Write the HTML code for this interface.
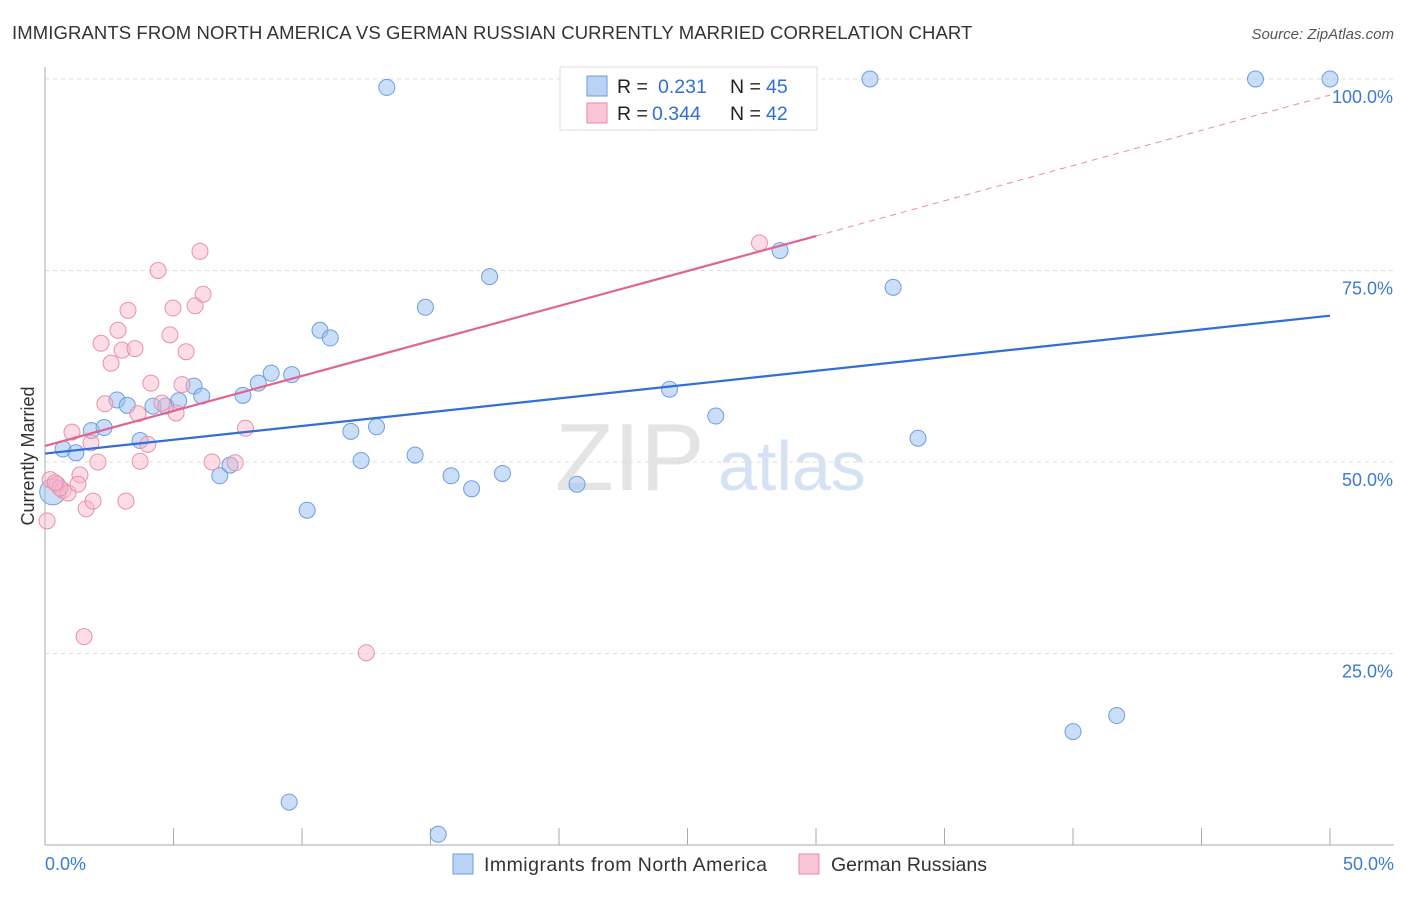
<!DOCTYPE html>
<html><head><meta charset="utf-8"><style>
body{margin:0;background:#fff;font-family:"Liberation Sans",sans-serif}
svg text{font-family:"Liberation Sans",sans-serif}
</style></head><body>
<svg width="1406" height="892">
<text x="12" y="39" font-size="18.5" letter-spacing="0.1" fill="#333">IMMIGRANTS FROM NORTH AMERICA VS GERMAN RUSSIAN CURRENTLY MARRIED CORRELATION CHART</text>
<text x="1394" y="39" font-size="15" fill="#555" font-style="italic" text-anchor="end">Source: ZipAtlas.com</text>
<text x="34" y="456" font-size="18" fill="#333" text-anchor="middle" transform="rotate(-90 34 456)">Currently Married</text>
<text x="555" y="490" font-size="96" fill="#e4e4e4" font-family="Liberation Serif">ZIP</text>
<text x="718" y="490" font-size="70" fill="#d4e2f4">atlas</text>
<g id="grid"></g><g id="pts"></g>
<g>
<rect x="560" y="67" width="257" height="63" fill="#fff" stroke="#ddd"/>
<rect x="587" y="76" width="20" height="20" fill="#b9d3f5" stroke="#6b9ee0"/>
<rect x="587" y="103" width="20" height="20" fill="#f9c6d6" stroke="#e88aaa"/>
<text x="617" y="93" font-size="19.5" fill="#222">R = <tspan x="658" fill="#2f6fd6">0.231</tspan><tspan x="730">N = </tspan><tspan x="766" fill="#2f6fd6">45</tspan></text>
<text x="617" y="120" font-size="19.5" fill="#222">R = <tspan x="652" fill="#2f6fd6">0.344</tspan><tspan x="730">N = </tspan><tspan x="766" fill="#2f6fd6">42</tspan></text>
</g>
<g>
<rect x="453" y="854" width="20" height="20" fill="#b9d3f5" stroke="#6b9ee0"/>
<text x="484" y="871" font-size="19.5" fill="#333" textLength="283">Immigrants from North America</text>
<rect x="799" y="854" width="20" height="20" fill="#f9c6d6" stroke="#e88aaa"/>
<text x="831" y="871" font-size="19.5" fill="#333" textLength="156">German Russians</text>
</g>
</svg>
<script>
const blueX=[13.3,32.1,47.1,50,0.7,1.2,1.8,2.3,2.8,3.2,3.7,4.2,4.7,5.2,5.8,6.1,6.8,7.2,7.7,8.3,8.8,9.6,10.2,10.7,11.1,11.9,12.3,12.9,14.4,14.8,15.8,16.6,17.3,17.8,20.7,24.3,26.1,28.6,33.0,33.97,40.0,41.7,9.5,15.3,0.3];
const blueY=[98.9,100,100,100,51.7,51.2,54.1,54.5,58.1,57.4,52.8,57.3,57.3,58.0,59.9,58.6,48.2,49.6,58.7,60.3,61.6,61.4,43.7,67.2,66.2,54.0,50.2,54.6,50.9,70.2,48.2,46.5,74.2,48.5,47.1,59.5,56.0,77.6,72.8,53.1,14.8,16.9,5.6,1.4,46.1];
const pinkX=[0.08,0.2,0.47,0.7,0.9,1.05,1.36,1.28,1.6,1.87,1.79,2.06,2.18,2.33,2.57,2.84,3.0,3.23,3.5,3.15,3.62,3.7,4.0,4.12,4.4,4.55,4.86,4.98,5.1,5.33,5.49,5.84,6.03,6.15,6.5,7.4,7.8,12.5,27.8,1.52,0.58,0.39];
const pinkY=[42.3,47.7,47.1,46.3,45.96,53.9,48.3,47.1,43.9,44.9,52.5,50.0,65.5,57.6,62.9,67.2,64.6,69.8,64.8,44.9,56.3,50.1,52.3,60.3,75.0,57.7,66.6,70.1,56.4,60.1,64.4,70.4,77.5,71.9,50.0,49.9,54.4,25.1,78.6,27.2,46.6,47.3];
const blueFit=[51.1,69.1], pinkFit=[52.1,79.5,97.9];
const yTicks=[25,50,75,100], xTicks=[0,5,10,15,20,25,30,35,40,45,50];
const NS="http://www.w3.org/2000/svg";
const X=v=>45+v/50*1285, Y=v=>845-v/100*766;
function mk(tag,attrs,parent){const e=document.createElementNS(NS,tag);for(const k in attrs)e.setAttribute(k,attrs[k]);parent.appendChild(e);return e;}
const g=document.getElementById('grid'), p=document.getElementById('pts');
yTicks.forEach(t=>{
 const l=mk('line',{x1:45,x2:1394,y1:Y(t),y2:Y(t),stroke:'#ddd','stroke-dasharray':'4 4'},g);
 
 
 const tx=mk('text',{x:1393,y:Y(t)+24,'font-size':18,fill:'#3a7bd5','text-anchor':'end'},g);tx.textContent=t.toFixed(1)+'%';
 
 
});
const ax=mk('line',{x1:45,x2:45,y1:67,y2:845,stroke:'#aaa'},g);


const bx=mk('line',{x1:45,x2:1394,y1:845,y2:845,stroke:'#aaa'},g);


xTicks.forEach(t=>{const l=mk('line',{x1:X(t),x2:X(t),y1:828,y2:845,stroke:'#aaa'},g);
 
 });
[[0,'start',45],[50,'end',1394]].forEach(([t,a,x])=>{const tx=mk('text',{x:x,y:870,'font-size':18,fill:'#3a7bd5','text-anchor':a},g);tx.textContent=t.toFixed(1)+'%';
 
 });
blueX.forEach((v,i)=>{const c=mk('circle',{cx:X(v),cy:Y(blueY[i]),r:i==44?13:8,fill:'rgba(150,190,240,0.5)',stroke:'#6d9fe0','stroke-width':1},p);
 
 });
pinkX.forEach((v,i)=>{const c=mk('circle',{cx:X(v),cy:Y(pinkY[i]),r:8,fill:'rgba(248,180,200,0.45)',stroke:'#e890ae','stroke-width':1},p);
 
 });
const bl=mk('line',{x1:X(0),y1:Y(blueFit[0]),x2:X(50),y2:Y(blueFit[1]),stroke:'#2f6fd6','stroke-width':2.2},p);


const pl=mk('line',{x1:X(0),y1:Y(pinkFit[0]),x2:X(30),y2:Y(pinkFit[1]),stroke:'#e0658f','stroke-width':2.2},p);


const pd=mk('line',{x1:X(30),y1:Y(pinkFit[1]),x2:X(50),y2:Y(pinkFit[2]),stroke:'#e88aaa','stroke-width':1,'stroke-dasharray':'6 5'},p);


</script>
</body></html>
